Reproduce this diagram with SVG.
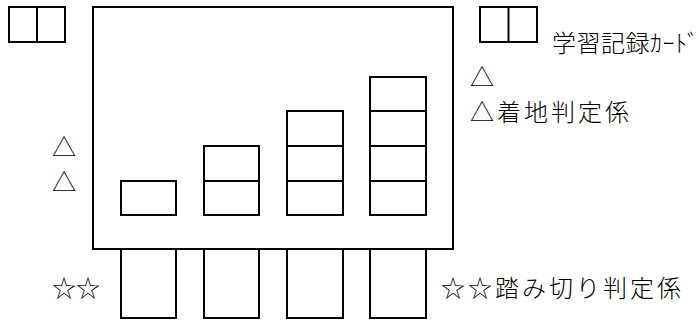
<svg xmlns="http://www.w3.org/2000/svg" width="699" height="321" viewBox="0 0 699 321">
<style>
.s{fill:none;stroke:#000;stroke-width:2}
.t{font-family:"Noto Sans CJK JP","Noto Sans",sans-serif;font-size:24px;font-weight:300;fill:#000}
</style>
<rect width="699" height="321" fill="#fff"/>
<g id="card-left">
<rect class="s" x="9" y="7" width="56" height="35"/>
<line class="s" x1="37" y1="7" x2="37" y2="42"/>
</g>
<g id="card-right">
<rect class="s" x="480" y="7" width="57" height="35"/>
<line class="s" x1="508.5" y1="7" x2="508.5" y2="42"/>
<text class="t" x="552" y="52" font-size="25" letter-spacing="0.5">学習記録ｶｰﾄﾞ</text>
</g>
<g id="landing-area">
<rect class="s" x="93" y="7" width="360" height="242"/>
</g>
<g id="stack-1">
<rect class="s" x="121" y="181" width="55" height="34"/>
</g>
<g id="stack-2">
<rect class="s" x="204" y="146" width="55" height="69"/>
<line class="s" x1="204" y1="181" x2="259" y2="181"/>
</g>
<g id="stack-3">
<rect class="s" x="287" y="111" width="56" height="104"/>
<line class="s" x1="287" y1="146" x2="343" y2="146"/>
<line class="s" x1="287" y1="181" x2="343" y2="181"/>
</g>
<g id="stack-4">
<rect class="s" x="370" y="77" width="56" height="138"/>
<line class="s" x1="370" y1="111" x2="426" y2="111"/>
<line class="s" x1="370" y1="146" x2="426" y2="146"/>
<line class="s" x1="370" y1="181" x2="426" y2="181"/>
</g>
<g id="takeoff-lanes">
<rect class="s" x="121" y="249" width="55" height="69"/>
<rect class="s" x="204" y="249" width="55" height="69"/>
<rect class="s" x="287" y="249" width="56" height="69"/>
<rect class="s" x="370" y="249" width="56" height="69"/>
</g>
<g id="landing-judges">
<text class="t" x="470" y="86">△</text>
<text class="t" x="470" y="121" letter-spacing="3">△着地判定係</text>
<text class="t" x="52" y="156">△</text>
<text class="t" x="52" y="191">△</text>
</g>
<g id="takeoff-judges">
<text class="t" x="52" y="297">☆☆</text>
<text class="t" x="441" y="297" letter-spacing="3">☆☆踏み切り判定係</text>
</g>
<g id="connectors"/>
</svg>
